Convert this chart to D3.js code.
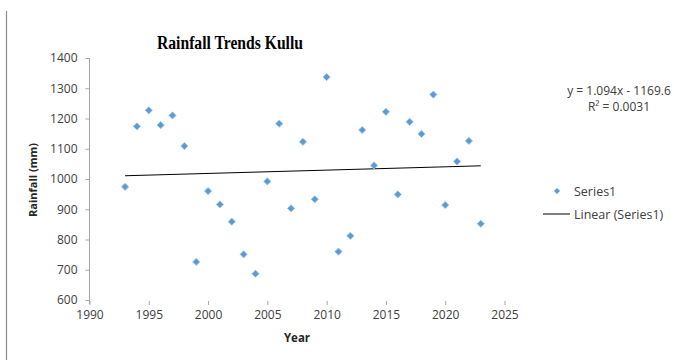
<!DOCTYPE html>
<html>
<head>
<meta charset="utf-8">
<script src="https://cdn.jsdelivr.net/npm/d3@7"></script>
<style>
  html, body { margin: 0; padding: 0; background: #fff; }
  svg { display: block; }
  text { font-family: "Open Sans", "Liberation Sans", sans-serif; }
</style>
</head>
<body>
<svg id="chart" width="674" height="360"></svg>
<script>
// Annual rainfall, Kullu
const years = [1993, 1994, 1995, 1996, 1997, 1998, 1999, 2000, 2001, 2002,
               2003, 2004, 2005, 2006, 2007, 2008, 2009, 2010, 2011, 2012,
               2013, 2014, 2015, 2016, 2017, 2018, 2019, 2020, 2021, 2022, 2023];
const rainfall = [974, 1174, 1227, 1178, 1210, 1109, 726, 960, 916, 859,
                  751, 687, 992, 1183, 903, 1123, 933, 1337, 760, 812,
                  1162, 1045, 1222, 949, 1189, 1149, 1279, 914, 1058, 1126, 852];

// Linear trend coefficients (as printed on the chart)
const slope = 1.094;
const intercept = -1169.6;
const r2 = "0.0031";

const xTicks = [1990, 1995, 2000, 2005, 2010, 2015, 2020, 2025];
const yTicks = [600, 700, 800, 900, 1000, 1100, 1200, 1300, 1400];

const svg = d3.select("#chart");

const x = d3.scaleLinear().domain([1990, 2025]).range([89.5, 504.5]);
const y = d3.scaleLinear().domain([600, 1400]).range([300, 58]);

// outer frame edge
svg.append("line")
  .attr("x1", 6.5).attr("x2", 6.5).attr("y1", 11).attr("y2", 360)
  .attr("stroke", "#8c8c8c").attr("stroke-width", 1.2);

// title
svg.append("text")
  .attr("x", 157).attr("y", 49)
  .attr("textLength", 146)
  .attr("lengthAdjust", "spacingAndGlyphs")
  .style("font-family", "'Liberation Serif', 'DejaVu Serif', serif")
  .style("font-weight", "bold")
  .style("font-size", "18px")
  .attr("fill", "#000")
  .text("Rainfall Trends  Kullu");

// y axis
const yAxis = svg.append("g")
  .attr("transform", "translate(89.5,0)")
  .call(d3.axisLeft(y).tickValues(yTicks).tickSize(4).tickPadding(8).tickFormat(d3.format("d")));
yAxis.select(".domain").attr("stroke", "#a6a6a6").attr("d", "M-0,58V304");
yAxis.selectAll(".tick line").attr("stroke", "#a6a6a6");
yAxis.selectAll(".tick text")
  .attr("fill", "#404040")
  .style("font-size", "12px")
  .style("font-family", "'Open Sans', sans-serif");

// x axis (no visible baseline, ticks only)
const xAxis = svg.append("g")
  .attr("transform", "translate(0,301)")
  .call(d3.axisBottom(x).tickValues(xTicks).tickSize(4).tickPadding(5).tickFormat(d3.format("d")));
xAxis.select(".domain").remove();
xAxis.selectAll(".tick line").attr("stroke", "#a6a6a6");
xAxis.selectAll(".tick text")
  .attr("fill", "#404040")
  .style("font-size", "12px")
  .style("font-family", "'Open Sans', sans-serif");

// axis titles
svg.append("text")
  .attr("x", 297).attr("y", 342)
  .attr("text-anchor", "middle")
  .style("font-weight", "bold")
  .style("font-size", "11.5px")
  .attr("fill", "#262626")
  .text("Year");

svg.append("text")
  .attr("transform", "translate(37,180) rotate(-90)")
  .attr("text-anchor", "middle")
  .style("font-weight", "bold")
  .style("font-size", "11px")
  .attr("fill", "#262626")
  .text("Rainfall (mm)");

// trend line
const trendYears = [d3.min(years), d3.max(years)];
svg.append("line")
  .attr("x1", x(trendYears[0])).attr("y1", y(slope * trendYears[0] + intercept))
  .attr("x2", x(trendYears[1])).attr("y2", y(slope * trendYears[1] + intercept))
  .attr("stroke", "#000").attr("stroke-width", 1);

// points: square markers turned 45° into diamonds
const diamond = d3.symbol().type(d3.symbolSquare).size(26);
svg.append("g").selectAll("path")
  .data(years.map((yr, i) => ({ yr, v: rainfall[i] })))
  .join("path")
  .attr("d", diamond)
  .attr("transform", d => `translate(${x(d.yr)},${y(d.v)}) rotate(45)`)
  .attr("fill", "#5b9bd5")
  .attr("stroke", "#9cc3e8")
  .attr("stroke-width", 0.8);

// regression equation
const eq = svg.append("g").attr("fill", "#404040").style("font-size", "12px");
eq.append("text").attr("x", 619).attr("y", 95).attr("text-anchor", "middle")
  .text(`y = ${slope}x - ${Math.abs(intercept)}`);
eq.append("text").attr("x", 619).attr("y", 111).attr("text-anchor", "middle")
  .text(`R² = ${r2}`);

// legend
const legend = svg.append("g").style("font-size", "12.5px").attr("fill", "#404040");
legend.append("path")
  .attr("d", d3.symbol().type(d3.symbolSquare).size(18))
  .attr("transform", "translate(557,191) rotate(45)")
  .attr("fill", "#5b9bd5");
legend.append("text").attr("x", 574).attr("y", 195.5).text("Series1");
legend.append("line")
  .attr("x1", 543).attr("x2", 570).attr("y1", 214).attr("y2", 214)
  .attr("stroke", "#000").attr("stroke-width", 1);
legend.append("text").attr("x", 574).attr("y", 218.5).text("Linear (Series1)");
</script>
</body>
</html>
